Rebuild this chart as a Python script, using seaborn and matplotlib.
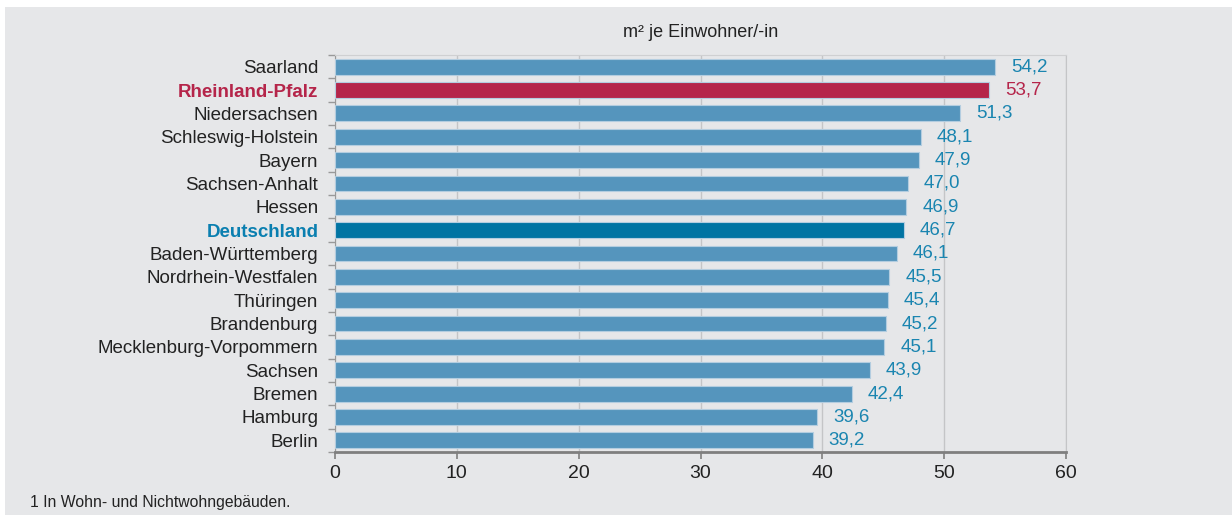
import matplotlib
matplotlib.use("Agg")
import matplotlib.pyplot as plt
import seaborn as sns
import pandas as pd
from matplotlib.patches import Rectangle
from matplotlib.ticker import MultipleLocator, FixedLocator

# Wohnfläche je Einwohner/-in nach Ländern
laender = ["Saarland", "Rheinland-Pfalz", "Niedersachsen", "Schleswig-Holstein",
           "Bayern", "Sachsen-Anhalt", "Hessen", "Deutschland", "Baden-Württemberg",
           "Nordrhein-Westfalen", "Thüringen", "Brandenburg",
           "Mecklenburg-Vorpommern", "Sachsen", "Bremen", "Hamburg", "Berlin"]
werte = [54.2, 53.7, 51.3, 48.1, 47.9, 47.0, 46.9, 46.7, 46.1,
         45.5, 45.4, 45.2, 45.1, 43.9, 42.4, 39.6, 39.2]
gruppe = ["Land", "RP", "Land", "Land", "Land", "Land", "Land", "D", "Land",
          "Land", "Land", "Land", "Land", "Land", "Land", "Land", "Land"]

df = pd.DataFrame({"Land": laender, "Wert": werte, "Gruppe": gruppe})

bg = "#e6e7e9"
farben = {"Land": "#5595bd", "RP": "#b5254a", "D": "#0074a3"}
text_farben = {"Land": "#1a85b0", "RP": "#b5254a", "D": "#1a85b0"}
label_farben = {"Land": "#222222", "RP": "#b5254a", "D": "#0a7fb0"}

plt.rcParams["font.family"] = ["Liberation Sans", "DejaVu Sans"]

fig = plt.figure(figsize=(12.32, 5.15), dpi=100)
fig.patch.set_facecolor("white")
fig.patches.append(Rectangle((5 / 1232, 0), 1, 1 - 7 / 515, transform=fig.transFigure,
                             facecolor=bg, edgecolor="none", zorder=-1))
ax = fig.add_axes([335 / 1232, 1 - 452 / 515, (1066 - 335) / 1232, (452 - 55) / 515])
ax.set_facecolor(bg)

sns.barplot(data=df, x="Wert", y="Land", hue="Gruppe", palette=farben,
            saturation=1, dodge=False, legend=False, width=0.68, ax=ax,
            edgecolor="#b3cde0", linewidth=0.8, zorder=3)

ax.set_xlim(0, 60)
ax.set_ylim(len(laender) - 0.5, -0.5)
ax.xaxis.set_major_locator(MultipleLocator(10))
ax.grid(axis="x", color="#c4c5c7", linewidth=1, zorder=0)
ax.set_axisbelow(True)

# Werte an den Balken
for i, (w, g) in enumerate(zip(werte, gruppe)):
    ax.annotate(f"{w:.1f}".replace(".", ","), (w, i), xytext=(11.5, 0),
                textcoords="offset points", va="center", ha="left",
                fontsize=13.5, color=text_farben[g])

ax.set_xlabel("")
ax.set_ylabel("")
ax.tick_params(axis="x", labelsize=14, colors="#7f7f7f", labelcolor="#222222",
               length=5, width=1.2, pad=4)
ax.tick_params(axis="y", which="major", length=0, labelsize=13.5, pad=12)
ax.yaxis.set_minor_locator(FixedLocator([i - 0.5 for i in range(len(laender) + 1)]))
ax.tick_params(axis="y", which="minor", length=5, width=1, color="#999999")

for lbl, g in zip(ax.get_yticklabels(), gruppe):
    lbl.set_color(label_farben[g])
    if g != "Land":
        lbl.set_fontweight("bold")

ax.spines["left"].set_color("#999999")
ax.spines["bottom"].set_color("#7f7f7f")
ax.spines["bottom"].set_linewidth(2)
ax.spines["top"].set_color("#cfd0d2")
ax.spines["right"].set_color("#c4c5c7")

ax.set_title("m² je Einwohner/-in", fontsize=13, color="#222222", pad=13)
fig.text(30 / 1232, 1 - 503 / 515, "1 In Wohn- und Nichtwohngebäuden.",
         fontsize=11.3, color="#222222", va="center", ha="left")

fig.savefig("out.png", dpi=100, facecolor=fig.get_facecolor())
